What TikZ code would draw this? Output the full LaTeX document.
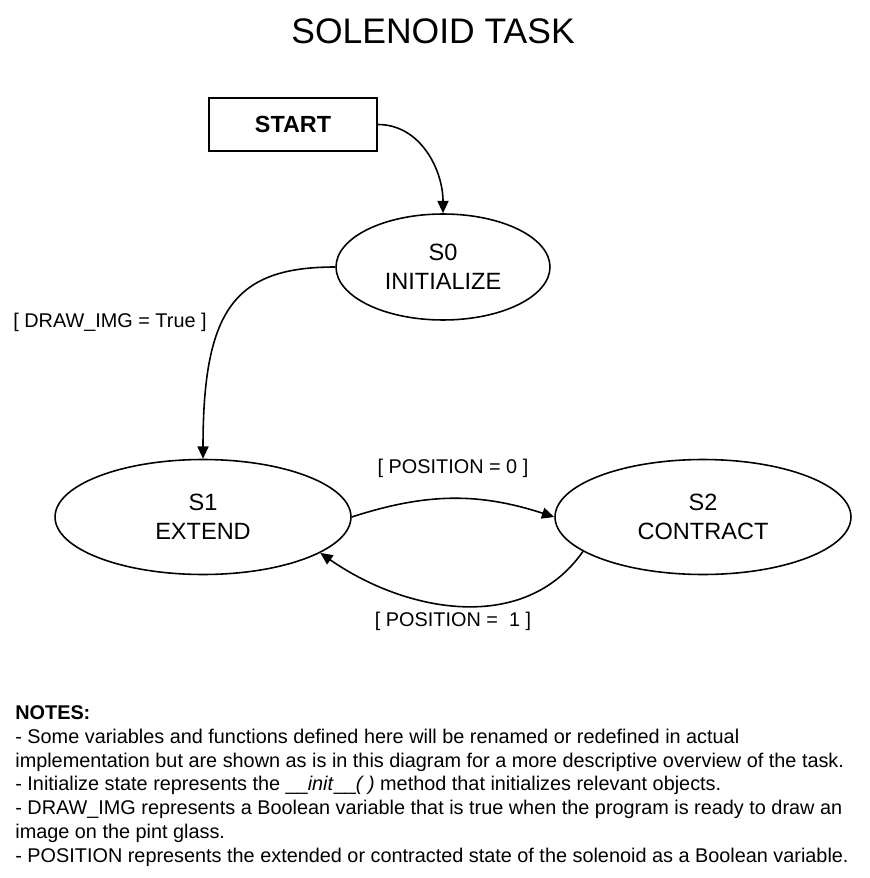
\documentclass[tikz,border=0pt]{standalone}
\usepackage{fontspec}
\setmainfont{Liberation Sans}
\usetikzlibrary{arrows.meta,shapes.geometric}

\begin{document}
\begin{tikzpicture}[x=0.02cm, y=-0.02cm,
  state/.style={draw, ellipse, line width=0.9pt, align=center, inner sep=0pt,
    font=\fontsize{13.4}{16.4}\selectfont},
  trans/.style={line width=0.9pt, -{Triangle[length=7pt,width=6.3pt]}},
  guard/.style={font=\fontsize{11.3}{13.6}\selectfont}]
\useasboundingbox (0,0) rectangle (869,878);
% Title
\node (title) at (433,31) {\fontsize{20.2}{24}\selectfont SOLENOID TASK};
% States
\node[draw, line width=0.9pt, minimum width=3.36cm, minimum height=1.06cm,
  font=\bfseries\fontsize{13.3}{16}\selectfont] (start) at (293,124.5) {START};
\node[state, minimum width=4.28cm, minimum height=2.12cm] (s0) at (443,267) {S0\\INITIALIZE};
\node[state, minimum width=5.92cm, minimum height=2.3cm] (s1) at (203,517) {S1\\EXTEND};
\node[state, minimum width=5.92cm, minimum height=2.3cm] (s2) at (703,517) {S2\\CONTRACT};
% Transitions
\draw[trans] (start.east) to[out=0, in=90] (s0.north);
\draw[trans] (s0.west) .. controls +(-100,0) and +(0,-150) .. (s1.north);
\draw[trans] (s1.east) to[out=18, in=162] (s2.west);
\draw[trans] (s2.196) to[out=235, in=-35] (s1.-17);
% Guards
\node[guard] (gdraw) at (110,322) {[ DRAW\_IMG = True ]};
\node[guard] (gpos0) at (453,468) {[ POSITION = 0 ]};
\node[guard] (gpos1) at (453,621) {[ POSITION = \ 1 ]};
% Notes
\node[anchor=north west, align=left, inner sep=0pt,
  font=\fontsize{11.3}{13.6}\selectfont] (notes) at (15,705) {\textbf{NOTES:}\\
- Some variables and functions defined here will be renamed or redefined in actual\\
implementation but are shown as is in this diagram for a more descriptive overview of the task.\\
- Initialize state represents the \_\_\textit{init}\_\_\textit{( )} method that initializes relevant objects.\\
- DRAW\_IMG represents a Boolean variable that is true when the program is ready to draw an\\
image on the pint glass.\\
- POSITION represents the extended or contracted state of the solenoid as a Boolean variable.};
\end{tikzpicture}
\end{document}
